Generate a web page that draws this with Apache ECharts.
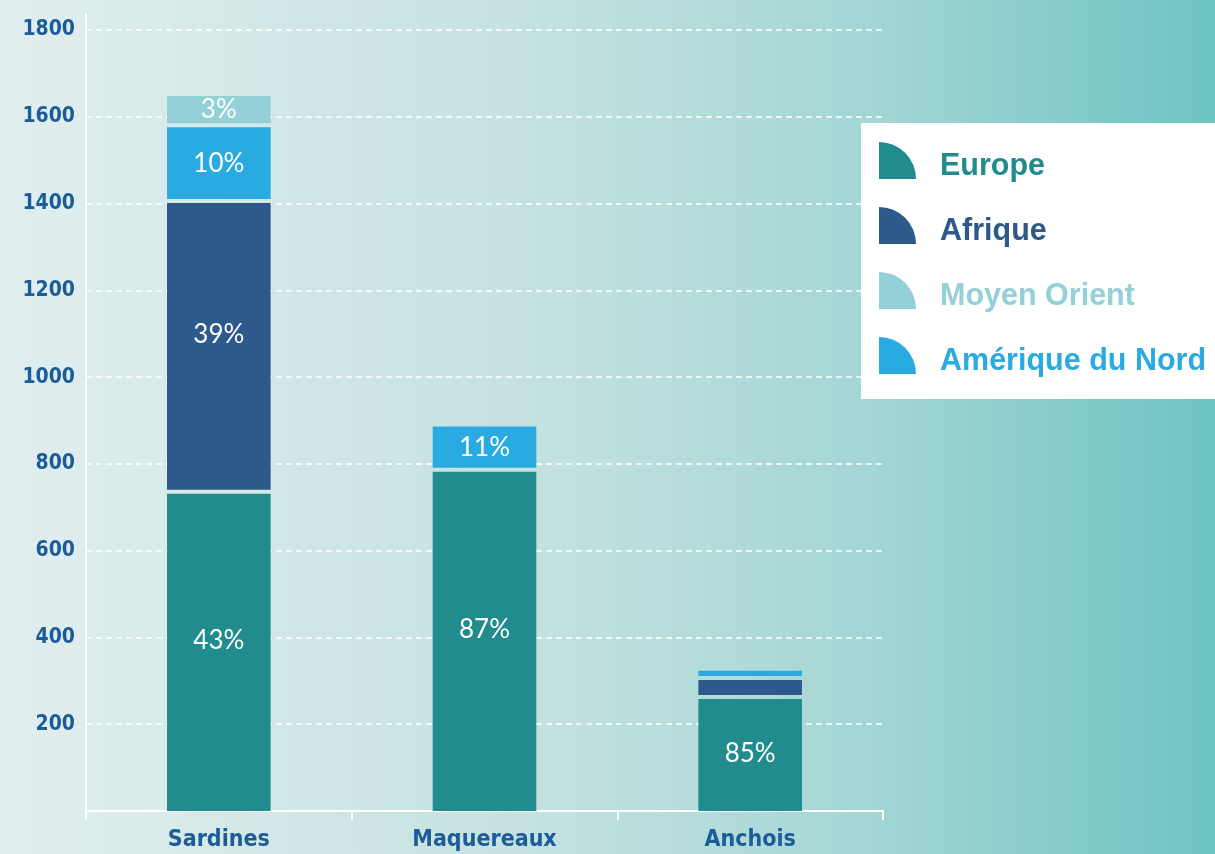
<!DOCTYPE html>
<html>
<head>
<meta charset="utf-8">
<script src="https://cdn.jsdelivr.net/npm/echarts@6/dist/echarts.min.js"></script>
<style>
  html, body { margin: 0; padding: 0; }
  #chart { width: 1215px; height: 854px; }
</style>
</head>
<body>
<div id="chart"></div>
<script>
// data
const categories = ['Sardines', 'Maquereaux', 'Anchois'];
const regions = ['Europe', 'Afrique', 'Moyen Orient', 'Amérique du Nord'];
const stackOrder = ['Europe', 'Afrique', 'Amérique du Nord', 'Moyen Orient'];

const europe = [731, 782, 258];
const afrique = [670, 0, 44];
const moyenOrient = [72, 0, 0];
const ameriqueNord = [175, 104, 21];

const europeLabels = ['43%', '87%', '85%'];
const afriqueLabels = ['39%', '', ''];
const moyenOrientLabels = ['3%', '', ''];
const ameriqueNordLabels = ['10%', '11%', ''];

const yTicks = [0, 200, 400, 600, 800, 1000, 1200, 1400, 1600, 1800];

const values = {
  'Europe': europe,
  'Afrique': afrique,
  'Moyen Orient': moyenOrient,
  'Amérique du Nord': ameriqueNord
};
const labels = {
  'Europe': europeLabels,
  'Afrique': afriqueLabels,
  'Moyen Orient': moyenOrientLabels,
  'Amérique du Nord': ameriqueNordLabels
};
const colors = {
  'Europe': '#218b8d',
  'Afrique': '#2d5a8a',
  'Moyen Orient': '#93d0d8',
  'Amérique du Nord': '#29abe2'
};

const GAP = 4;
const BAR_RATIO = 0.39;
const axisBlue = '#1b5c99';
const axisFont = '"DejaVu Sans Condensed", "Liberation Sans Narrow", "Liberation Sans", sans-serif';
const quarterIcon = 'path://M0,10 L0,0 A10,10 0 0 1 10,10 Z';

const chart = echarts.init(document.getElementById('chart'));

function baseOf(name, j) {
  let base = 0;
  for (const other of stackOrder) {
    if (other === name) break;
    base += values[other][j];
  }
  return base;
}

function regionSeries(name) {
  return {
    type: 'custom',
    name: name,
    xAxisIndex: 0,
    yAxisIndex: 0,
    itemStyle: { color: colors[name] },
    encode: { x: 0, y: 1 },
    data: categories.map((c, j) => [j, values[name][j]]),
    renderItem(params, api) {
      const j = api.value(0);
      const v = api.value(1);
      if (!v) return null;
      const base = baseOf(name, j);
      const top = api.coord([j, base + v]);
      const bottom = api.coord([j, base]);
      const w = api.size([1, 0])[0] * BAR_RATIO;
      const yBottom = bottom[1] - (base > 0 ? GAP : 0);
      const h = yBottom - top[1];
      return {
        type: 'rect',
        shape: { x: top[0] - w / 2, y: top[1], width: w, height: h },
        style: { fill: colors[name] },
        textContent: {
          style: {
            text: labels[name][j],
            fill: '#ffffff',
            fontFamily: 'Lato',
            fontSize: 26
          }
        },
        // tall segments carry their label a bit above centre
        textConfig: { position: 'inside', offset: [0, -Math.min(12, Math.max(0, h - 80) * 0.06)] }
      };
    }
  };
}

chart.setOption({
  backgroundColor: new echarts.graphic.LinearGradient(0, 0, 1, 0, [
    { offset: 0, color: '#e2eeef' },
    { offset: 0.45, color: '#c3e1e0' },
    { offset: 0.72, color: '#a3d6d5' },
    { offset: 1, color: '#6fc3c3' }
  ]),
  animation: false,
  legend: {
    orient: 'vertical',
    left: 861,
    top: 123,
    data: regions.map(r => ({ name: r, textStyle: { color: colors[r] } })),
    icon: quarterIcon,
    itemWidth: 37,
    itemHeight: 37,
    itemGap: 25,
    backgroundColor: '#ffffff',
    padding: [19, 20, 22, 18],
    formatter: '{t|{name}}',
    textStyle: {
      fontFamily: 'Liberation Sans',
      fontWeight: 'bold',
      fontSize: 30.5,
      rich: {
        t: {
          fontFamily: 'Liberation Sans',
          fontWeight: 'bold',
          fontSize: 30.5,
          padding: [12, 0, 0, 19]
        }
      }
    }
  },
  grid: [
    { left: 86, right: 332, top: 30, bottom: 43 },
    { left: 86, right: 332, top: 14, bottom: 43 }
  ],
  xAxis: [
    {
      type: 'category',
      gridIndex: 0,
      data: categories,
      axisLine: { lineStyle: { color: '#ffffff', width: 2 } },
      axisTick: { show: true, length: 9, lineStyle: { color: '#ffffff', width: 2 } },
      axisLabel: {
        color: axisBlue,
        fontFamily: axisFont,
        fontWeight: 'bold',
        fontSize: 23,
        margin: 18
      }
    },
    { type: 'value', gridIndex: 1, show: false }
  ],
  yAxis: [
    {
      type: 'value',
      gridIndex: 0,
      min: yTicks[0],
      max: yTicks[yTicks.length - 1],
      interval: yTicks[1] - yTicks[0],
      axisLine: { show: false },
      axisTick: { show: false },
      splitLine: { lineStyle: { color: '#ffffff', type: [6, 4], width: 1.5 } },
      axisLabel: {
        color: axisBlue,
        fontFamily: axisFont,
        fontWeight: 'bold',
        fontSize: 21,
        margin: 11,
        formatter: v => (v === 0 ? '' : String(v))
      }
    },
    {
      type: 'value',
      gridIndex: 1,
      min: 0,
      max: 1,
      axisLine: { show: true, lineStyle: { color: '#ffffff', width: 2 } },
      axisTick: { show: false },
      axisLabel: { show: false },
      splitLine: { show: false }
    }
  ],
  series: regions.map(regionSeries)
});
</script>
</body>
</html>
